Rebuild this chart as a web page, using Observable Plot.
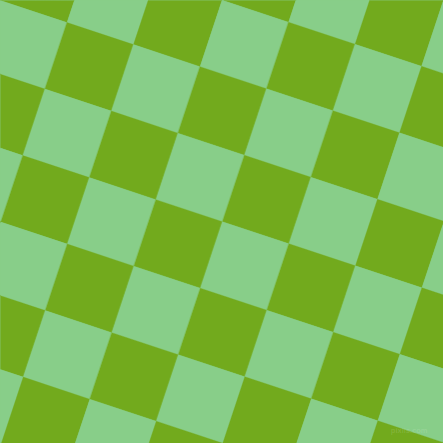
<!DOCTYPE html>
<html>
<head>
<meta charset="utf-8">
<script src="https://cdn.jsdelivr.net/npm/d3@7"></script>
<script src="https://cdn.jsdelivr.net/npm/@observablehq/plot@0.6"></script>
<style>
  html, body { margin: 0; padding: 0; background: #fff; overflow: hidden; }
  #chart svg { display: block; }
</style>
</head>
<body>
<div id="chart"></div>
<script>
// Checkerboard tile indices (along the rotated axes)
const colIndex = [-1, 0, 1, 2, 3, 4, 5, 6, 7, 8];
const rowIndex = [-3, -2, -1, 0, 1, 2, 3, 4, 5, 6];
const tileColors = ["#88CE89", "#72AA1D"]; // even parity, odd parity
const tileSide = 70.06;   // px
const tileAngle = 18.34;  // degrees
const watermark = "pixlis.com";

const W = 443, H = 443;
const rad = tileAngle * Math.PI / 180;
const u = [tileSide * Math.cos(rad), tileSide * Math.sin(rad)];
const v = [-tileSide * Math.sin(rad), tileSide * Math.cos(rad)];
const pt = (i, j) => [i * u[0] + j * v[0], i * u[1] + j * v[1]];

const features = [];
for (const i of colIndex) {
  for (const j of rowIndex) {
    const ring = [pt(i, j), pt(i + 1, j), pt(i + 1, j + 1), pt(i, j + 1), pt(i, j)];
    features.push({
      type: "Feature",
      properties: {color: tileColors[Math.abs(i + j) % 2]},
      geometry: {type: "Polygon", coordinates: [ring]}
    });
  }
}

const frame = {type: "Polygon", coordinates: [[[0, 0], [W, 0], [W, H], [0, H], [0, 0]]]};

const chart = Plot.plot({
  width: W,
  height: H,
  margin: 0,
  projection: {type: "identity", domain: frame, inset: 0},
  style: {background: "#88CE89"},
  marks: [
    Plot.geo(features, {fill: (d) => d.properties.color, stroke: (d) => d.properties.color, strokeWidth: 0.3, clip: "frame"}),
    Plot.text([watermark], {
      text: (d) => d,
      frameAnchor: "bottom-right",
      dx: -16, dy: -11,
      fontSize: 7.5,
      fontWeight: "bold",
      fontFamily: "Liberation Sans",
      fill: "#ffffff",
      fillOpacity: 0.13
    })
  ]
});
document.getElementById("chart").appendChild(chart);
</script>
</body>
</html>
